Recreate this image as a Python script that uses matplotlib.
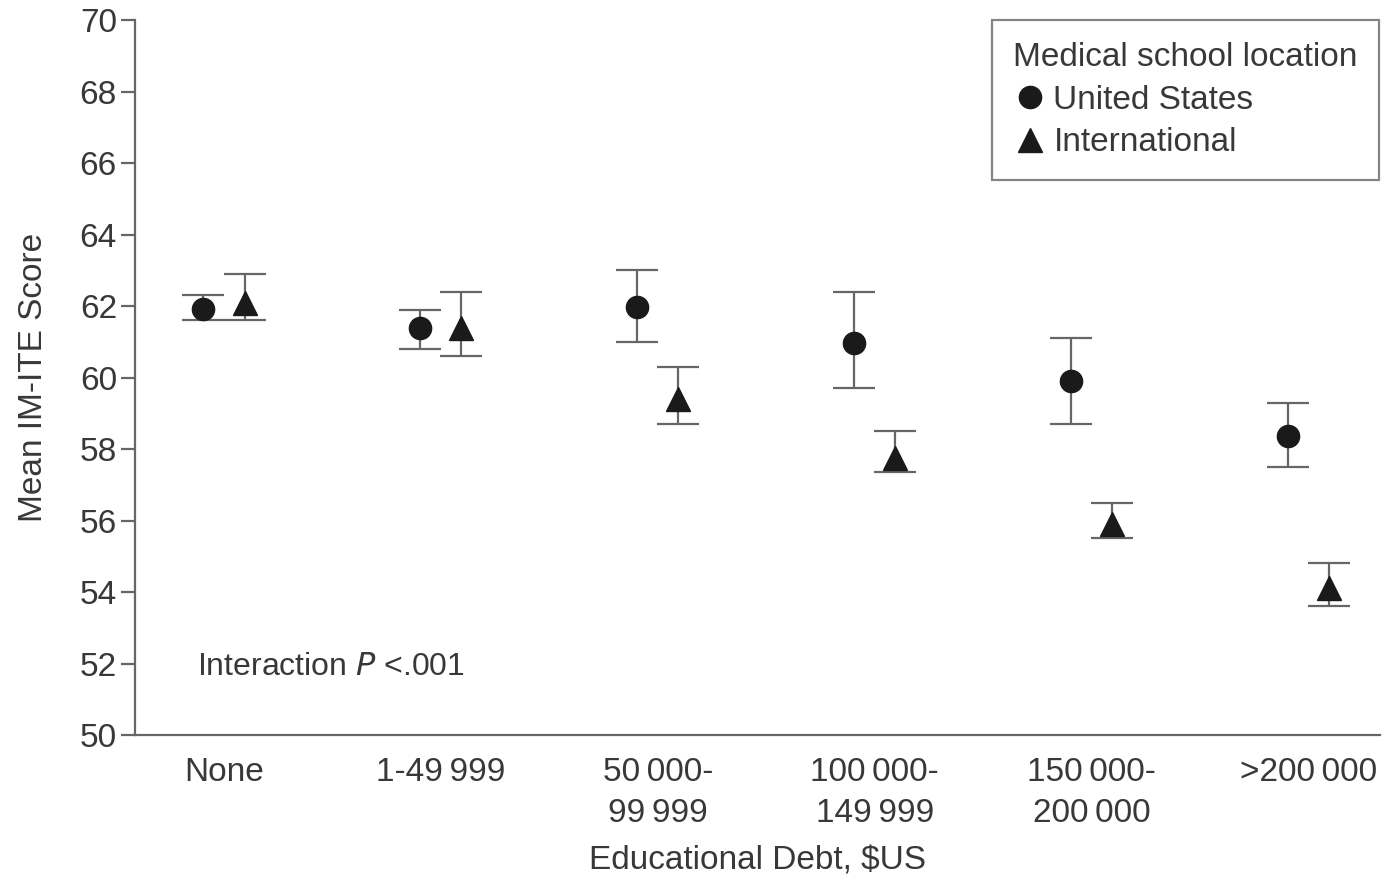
import matplotlib
matplotlib.use("Agg")
import matplotlib.pyplot as plt
from matplotlib.lines import Line2D
import numpy as np

plt.rcParams['font.family'] = ['Liberation Sans', 'DejaVu Sans']

categories = ['None', '1-49\u2009999', '50\u2009000-\n99\u2009999', '100\u2009000-\n149\u2009999',
              '150\u2009000-\n200\u2009000', '>200\u2009000']

us_mean = [61.92, 61.4, 61.97, 60.97, 59.9, 58.38]
us_low = [61.6, 60.8, 61.0, 59.7, 58.7, 57.5]
us_high = [62.3, 61.9, 63.0, 62.4, 61.1, 59.3]

intl_mean = [62.1, 61.4, 59.4, 57.75, 55.9, 54.1]
intl_low = [61.6, 60.6, 58.7, 57.35, 55.5, 53.6]
intl_high = [62.9, 62.4, 60.3, 58.5, 56.5, 54.8]

text_color = '#383838'
line_color = '#666666'
mark_color = '#1a1a1a'

fig = plt.figure(figsize=(13.86, 8.82), dpi=100)
ax = fig.add_axes([0.0974, 0.1667, 0.8983, 0.8103])

x = np.arange(len(categories))
off = 0.095


def draw(xs, mean, low, high, marker, size):
    mean = np.array(mean)
    err = [mean - np.array(low), np.array(high) - mean]
    ax.errorbar(xs, mean, yerr=err, fmt='none', ecolor=line_color, elinewidth=1.6,
                capsize=15, capthick=1.6, zorder=2)
    ax.plot(xs, mean, linestyle='none', marker=marker, markersize=size,
            color=mark_color, zorder=3)


draw(x - off, us_mean, us_low, us_high, 'o', 16)
draw(x + off, intl_mean, intl_low, intl_high, '^', 17)

ax.set_xlim(-0.41, 5.33)
ax.set_ylim(50, 70)
ax.set_yticks(np.arange(50, 71, 2))
ax.set_xticks(x)
ax.set_xticklabels(categories, linespacing=1.4)

for s in ['top', 'right']:
    ax.spines[s].set_visible(False)
for s in ['left', 'bottom']:
    ax.spines[s].set_color(line_color)
    ax.spines[s].set_linewidth(1.6)

ax.tick_params(axis='y', length=10, width=1.6, color=line_color, labelsize=24,
               labelcolor=text_color, pad=3)
ax.tick_params(axis='x', length=0, labelsize=24, labelcolor=text_color, pad=16)

ax.set_ylabel('Mean IM-ITE Score', fontsize=24, color=text_color, labelpad=22)
ax.set_xlabel('Educational Debt, $US', fontsize=24, color=text_color, labelpad=12)

ax.text(-0.125, 51.9, 'Interaction $\\it{P}$ <.001', fontsize=23, color=text_color,
        va='center', ha='left')

handles = [Line2D([], [], linestyle='none', marker='o', markersize=16, color=mark_color),
           Line2D([], [], linestyle='none', marker='^', markersize=17, color=mark_color)]
leg = ax.legend(handles, ['United States', 'International'], title='Medical school location',
                loc='upper right', bbox_to_anchor=(0.9995, 1.0), fontsize=24,
                title_fontsize=24, frameon=True, fancybox=False, handletextpad=0.2,
                handlelength=1.0, borderpad=0.65, labelspacing=0.35, borderaxespad=0)
leg.get_frame().set_edgecolor(line_color)
leg.get_frame().set_linewidth(1.6)
leg._legend_box.align = 'left'
leg.get_title().set_color(text_color)
for t in leg.get_texts():
    t.set_color(text_color)

fig.savefig('out.png', dpi=100)
